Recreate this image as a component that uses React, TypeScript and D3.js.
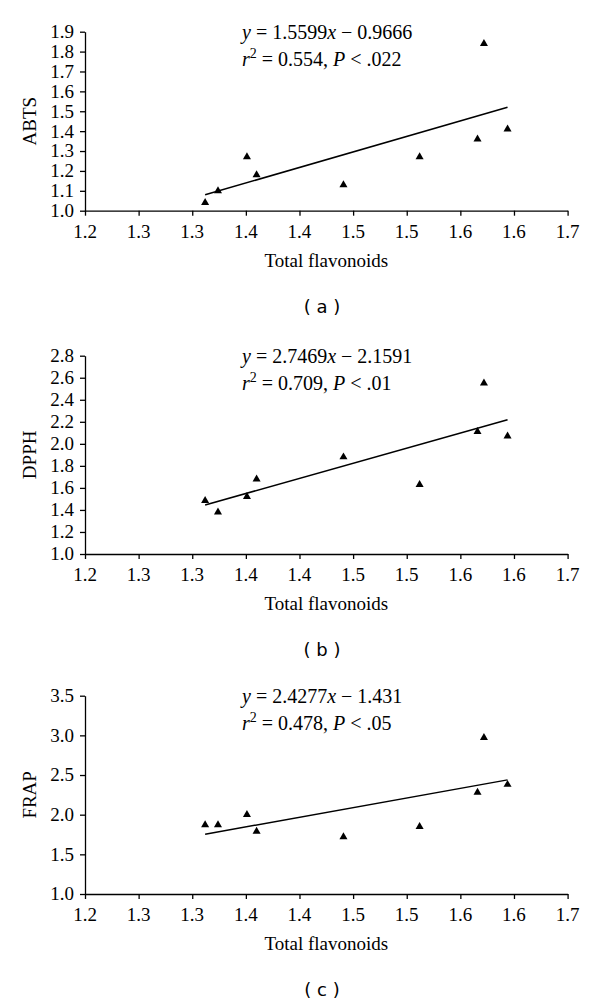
import React, { useEffect, useRef } from 'react';
import * as d3 from 'd3';

// total flavonoids (x) shared by all three panels
const flavonoids = [1.312, 1.324, 1.351, 1.36, 1.441, 1.512, 1.566, 1.572, 1.594];
const abts = [1.04, 1.1, 1.27, 1.18, 1.13, 1.27, 1.36, 1.84, 1.41];
const dpph = [1.485, 1.38, 1.52, 1.68, 1.88, 1.63, 2.11, 2.55, 2.07];
const frap = [1.87, 1.87, 2.0, 1.79, 1.72, 1.85, 2.28, 2.97, 2.38];

const xTicks = [1.2, 1.25, 1.3, 1.35, 1.4, 1.45, 1.5, 1.55, 1.6, 1.65];
const xTickLabels = ['1.2', '1.3', '1.3', '1.4', '1.4', '1.5', '1.5', '1.6', '1.6', '1.7'];

const abtsTicks = [1.0, 1.1, 1.2, 1.3, 1.4, 1.5, 1.6, 1.7, 1.8, 1.9];
const dpphTicks = [1.0, 1.2, 1.4, 1.6, 1.8, 2.0, 2.2, 2.4, 2.6, 2.8];
const frapTicks = [1.0, 1.5, 2.0, 2.5, 3.0, 3.5];

const slopes = [1.5599, 2.7469, 2.4277];
const intercepts = [-0.9666, -2.1591, -1.431];
const slopeLabels = ['1.5599', '2.7469', '2.4277'];
const interceptLabels = ['0.9666', '2.1591', '1.431'];
const r2Labels = ['0.554', '0.709', '0.478'];
const pLabels = ['.022', '.01', '.05'];
const yTitles = ['ABTS', 'DPPH', 'FRAP'];
const captions = ['a', 'b', 'c'];

const series = [abts, dpph, frap];
const yTickSets = [abtsTicks, dpphTicks, frapTicks];

const width = 600;
const height = 1003;
const serif = "Liberation Serif, Times New Roman, serif";

// plot area top/bottom for each panel
const panelBox = [
  { top: 31.7, bottom: 210.7 },
  { top: 355.7, bottom: 554 },
  { top: 695.7, bottom: 894 },
];
const left = 85;
const right = 567.6;

const App = () => {
  const svgRef = useRef(null);

  useEffect(() => {
    document.body.style.margin = '0';
    const svg = d3.select(svgRef.current);
    svg.selectAll('*').remove();

    const x = d3.scaleLinear().domain([1.2, 1.65]).range([left, right]);

    series.forEach((values, p) => {
      const box = panelBox[p];
      const ticks = yTickSets[p];
      const y = d3.scaleLinear()
        .domain([ticks[0], ticks[ticks.length - 1]])
        .range([box.bottom, box.top]);

      const g = svg.append('g');

      // axes: lines and ticks from d3, labels drawn below
      const xAxis = g.append('g')
        .attr('transform', `translate(0,${box.bottom})`)
        .call(d3.axisBottom(x).tickValues(xTicks)
          .tickFormat(() => '')
          .tickSize(5).tickSizeOuter(0));
      const yAxis = g.append('g')
        .attr('transform', `translate(${left},0)`)
        .call(d3.axisLeft(y).tickValues(ticks)
          .tickFormat(() => '')
          .tickSize(5).tickSizeOuter(0));
      [xAxis, yAxis].forEach(ax => {
        ax.selectAll('text').remove();
        ax.selectAll('.domain, .tick line')
          .attr('stroke', '#000')
          .attr('stroke-width', 1.3);
      });

      g.selectAll('.xlab')
        .data(xTicks)
        .enter().append('text')
        .attr('class', 'xlab')
        .attr('x', d => x(d))
        .attr('y', box.bottom + 27)
        .attr('text-anchor', 'middle')
        .attr('font-family', serif).attr('font-size', 19).attr('fill', '#000')
        .text((d, i) => xTickLabels[i]);

      g.selectAll('.ylab')
        .data(ticks)
        .enter().append('text')
        .attr('class', 'ylab')
        .attr('x', left - 11)
        .attr('y', d => y(d))
        .attr('dy', '0.34em')
        .attr('text-anchor', 'end')
        .attr('font-family', serif).attr('font-size', 19).attr('fill', '#000')
        .text(d => d3.format('.1f')(d));

      // regression line
      const [x0, x1] = d3.extent(flavonoids);
      g.append('line')
        .attr('x1', x(x0)).attr('y1', y(slopes[p] * x0 + intercepts[p]))
        .attr('x2', x(x1)).attr('y2', y(slopes[p] * x1 + intercepts[p]))
        .attr('stroke', '#000')
        .attr('stroke-width', 1.5);

      // triangle markers
      g.selectAll('.pt')
        .data(values)
        .enter().append('path')
        .attr('class', 'pt')
        .attr('d', d3.symbol().type(d3.symbolTriangle).size(28))
        .attr('transform', (d, i) => `translate(${x(flavonoids[i])},${y(d)})`)
        .attr('fill', '#000');

      // equation text
      const eq = g.append('text')
        .attr('x', 242).attr('y', box.top + 7)
        .attr('font-family', serif).attr('font-size', 20).attr('fill', '#000');
      eq.append('tspan').attr('font-style', 'italic').text('y');
      eq.append('tspan').text(` = ${slopeLabels[p]}`);
      eq.append('tspan').attr('font-style', 'italic').text('x');
      eq.append('tspan').text(` \u2212 ${interceptLabels[p]}`);

      const r2 = g.append('text')
        .attr('x', 242).attr('y', box.top + 34)
        .attr('font-family', serif).attr('font-size', 20).attr('fill', '#000');
      r2.append('tspan').attr('font-style', 'italic').text('r');
      r2.append('tspan').attr('font-size', 14).attr('dy', -8).text('2');
      r2.append('tspan').attr('dy', 8).text(` = ${r2Labels[p]}, `);
      r2.append('tspan').attr('font-style', 'italic').text('P');
      r2.append('tspan').text(` < ${pLabels[p]}`);

      // axis titles
      g.append('text')
        .attr('transform', `translate(36,${(box.top + box.bottom) / 2}) rotate(-90)`)
        .attr('text-anchor', 'middle')
        .attr('font-family', serif).attr('font-size', 19).attr('fill', '#000')
        .text(yTitles[p]);

      g.append('text')
        .attr('x', (left + right) / 2).attr('y', box.bottom + 56)
        .attr('text-anchor', 'middle')
        .attr('font-family', serif).attr('font-size', 19).attr('fill', '#000')
        .text('Total flavonoids');

      // panel caption
      g.append('text')
        .attr('x', 322).attr('y', box.bottom + 102)
        .attr('text-anchor', 'middle')
        .attr('font-family', "DejaVu Sans, Verdana, sans-serif")
        .attr('font-size', 18).attr('fill', '#000')
        .attr('xml:space', 'preserve')
        .text(`( ${captions[p]} )`);
    });
  }, []);

  return (
    <svg ref={svgRef} width={width} height={height} style={{ display: 'block', background: '#fff' }}></svg>
  );
};

export default App;
